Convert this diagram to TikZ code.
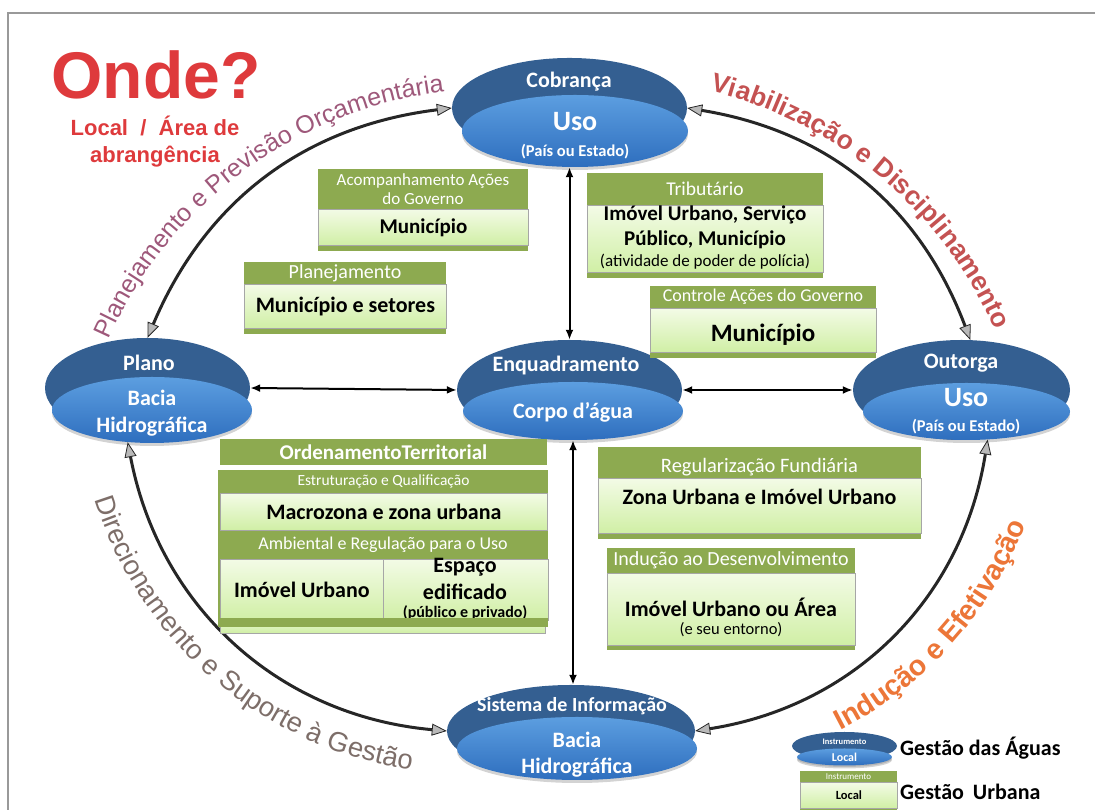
\documentclass[tikz,border=0pt]{standalone}
\usepackage{fontspec}
\setmainfont{Carlito}
\newfontfamily\arialf{Liberation Sans}
\usetikzlibrary{shapes.geometric, arrows.meta, positioning, decorations.text, shadows}

\definecolor{dblue}{RGB}{52,95,145}
\definecolor{lblueA}{RGB}{92,158,224}
\definecolor{lblueB}{RGB}{46,110,190}
\definecolor{hgreen}{RGB}{141,170,80}
\definecolor{bgA}{RGB}{243,251,230}
\definecolor{bgB}{RGB}{208,239,165}
\definecolor{ondered}{RGB}{222,58,60}
\definecolor{planc}{RGB}{158,88,122}
\definecolor{viabc}{RGB}{196,82,82}
\definecolor{direc}{RGB}{125,110,105}
\definecolor{inducc}{RGB}{236,118,56}

\begin{document}
\begin{tikzpicture}[x=1pt, y=1pt,
outer/.style={ellipse, fill=dblue, inner sep=0pt},
inner/.style={ellipse, top color=lblueA, bottom color=lblueB, inner sep=0pt, drop shadow={shadow xshift=0pt, shadow yshift=-3pt, opacity=0.35}},
wlab/.style={text=white, font=\bfseries\fontsize{22}{24}\selectfont, inner sep=0pt},
card/.style={fill=hgreen, anchor=north west, inner sep=0pt},
cell/.style={draw=black!35, line width=0.8pt, top color=bgA, bottom color=bgB, anchor=north west, inner sep=0pt, font=\bfseries\fontsize{22}{24}\selectfont},
htext/.style={text=white, inner sep=0pt, font=\fontsize{20}{22}\selectfont},
btext/.style={inner sep=0pt, font=\bfseries\fontsize{22}{24}\selectfont},
ntext/.style={inner sep=0pt, font=\fontsize{16.5}{18}\selectfont},
flow/.style={line width=3pt, draw=black!85, arrows={Triangle[length=15pt,width=12pt,line width=0.8pt,fill=gray!55]-Triangle[length=15pt,width=12pt,line width=0.8pt,fill=gray!55]}},
link/.style={line width=2pt, arrows={Latex[length=10pt,width=8pt]-Latex[length=10pt,width=8pt]}}
]
\useasboundingbox (0,0) rectangle (1095,810);
\draw[gray!80, line width=2pt] (8,-5) -- (8,797) -- (1100,797);

% texts along the arcs
\path[decorate, decoration={text along path, text align=center, text color=planc,
  text={|\arialf\fontsize{25}{25}\selectfont|Planejamento e Previsão Orçamentária}}]
  (494,300) ++(167:421) arc[start angle=167, end angle=86, radius=421];
\path[decorate, decoration={text along path, text align=center, text color=viabc,
  text={|\arialf\bfseries\fontsize{26.5}{26.5}\selectfont|Viabilização e Disciplinamento}}]
  (610.5,311) ++(88:420) arc[start angle=88, end angle=12, radius=420];
\path[decorate, decoration={text along path, text align=center, text color=direc,
  text={|\arialf\fontsize{27.5}{27.5}\selectfont|Direcionamento e Suporte à Gestão}}]
  (467.4,426.5) ++(186:390) arc[start angle=186, end angle=273, radius=390];
\path[decorate, decoration={text along path, text align=center, text color=inducc,
  text={|\arialf\bfseries\fontsize{28.5}{28.5}\selectfont|Indução e Efetivação}}]
  (663,426) ++(283:389) arc[start angle=283, end angle=353, radius=389];

% instrumentos gestao das aguas
\node[outer, minimum width=235, minimum height=100] (cobranca) at (569.5,702) {};
\node[inner, minimum width=226, minimum height=72] (cobrancaIn) at (575,679) {};
\node[wlab] (cobrancaT) at (569,728) {Cobrança};
\node[wlab, font=\bfseries\fontsize{28}{30}\selectfont] (cobrancaU) at (575,688) {Uso};
\node[wlab, font=\bfseries\fontsize{16.5}{18}\selectfont] (cobrancaL) at (575,658) {(País ou Estado)};

\node[outer, minimum width=205, minimum height=100] (plano) at (147.5,422) {};
\node[inner, minimum width=200, minimum height=66] (planoIn) at (152,400) {};
\node[wlab] (planoT) at (149,447) {Plano};
\node[wlab] (planoL1) at (152,412) {Bacia};
\node[wlab] (planoL2) at (152,383) {Hidrográfica};

\node[outer, minimum width=225, minimum height=100] (enq) at (569.5,420) {};
\node[inner, minimum width=220, minimum height=58] (enqIn) at (573,399) {};
\node[wlab] (enqT) at (566,444) {Enquadramento};
\node[wlab] (enqL) at (573,398) {Corpo d’água};

\node[outer, minimum width=217, minimum height=100] (outorga) at (961.5,420) {};
\node[inner, minimum width=207, minimum height=57] (outorgaIn) at (966.5,398.5) {};
\node[wlab] (outorgaT) at (961,447) {Outorga};
\node[wlab, font=\bfseries\fontsize{28}{30}\selectfont] (outorgaU) at (966,412) {Uso};
\node[wlab, font=\bfseries\fontsize{16.5}{18}\selectfont] (outorgaL) at (966,383) {(País ou Estado)};

\node[outer, minimum width=248, minimum height=92] (sistema) at (571,79) {};
\node[inner, minimum width=240, minimum height=63] (sistemaIn) at (577,61.5) {};
\node[wlab, font=\bfseries\fontsize{20}{22}\selectfont] (sistemaT) at (572,104) {Sistema de Informação};
\node[wlab] (sistemaL1) at (577,70) {Bacia};
\node[wlab] (sistemaL2) at (577,42) {Hidrográfica};

% ligacoes
\draw[link] (plano.east) -- (enq.west);
\draw[link] (enq.east) -- (outorga.west);
\draw[link] (enq.north) -- (enq.north |- cobrancaIn.south);
\draw[link] (enqIn.south) -- (enqIn.south |- sistema.north);
\draw[flow] (plano.north) to[bend left=30] (cobranca.west);
\draw[flow] (cobranca.east) to[bend left=30] (outorga.80);
\draw[flow] (planoIn.233) to[bend right=37] (sistema.west);
\draw[flow] (sistema.east) to[bend right=36] (outorgaIn.307);

% instrumentos gestao urbana
\node[card, minimum width=210, minimum height=82] (acomp) at (318,641) {};
\node[cell, minimum width=210, minimum height=36, font=\bfseries\fontsize{21}{23}\selectfont] (acompB) at (318,601) {Município};
\node[htext, align=center, font=\fontsize{17}{19}\selectfont] (acompH) at (423,621) {Acompanhamento Ações\\do Governo};

\node[card, minimum width=202, minimum height=72] (planej) at (244,548) {};
\node[cell, minimum width=202, minimum height=44] (planejB) at (244,526) {Município e setores};
\node[htext] (planejH) at (345,537) {Planejamento};

\node[card, minimum width=236, minimum height=105] (trib) at (587,637) {};
\node[cell, minimum width=236, minimum height=67] (tribB) at (587,605) {};
\node[htext, font=\fontsize{19.5}{21}\selectfont] (tribH) at (705,621) {Tributário};
\node[btext, font=\bfseries\fontsize{21}{25}\selectfont, align=center] (tribT) at (705,582.5) {Imóvel Urbano, Serviço\\Público, Município};
\node[ntext, font=\fontsize{17}{19}\selectfont] (tribN) at (705,548) {(atividade de poder de polícia)};

\node[card, minimum width=226, minimum height=72] (contr) at (650,524) {};
\node[cell, minimum width=226, minimum height=44] (contrB) at (650,502) {};
\node[htext, font=\fontsize{18}{20}\selectfont] (contrH) at (763,513) {Controle Ações do Governo};
\node[btext, font=\bfseries\fontsize{25}{27}\selectfont] (contrT) at (763,475) {Município};

\node[card, minimum width=327, minimum height=26, text=white, font=\bfseries\fontsize{21}{23}\selectfont, anchor=center] (orden) at (383.5,358) {OrdenamentoTerritorial};
\node[cell, minimum width=325, minimum height=21] (ordenF) at (220,198) {};
\node[card, minimum width=330, minimum height=157] (estrut) at (218,340) {};
\node[cell, minimum width=327, minimum height=37] (estrutB) at (220,317) {Macrozona e zona urbana};
\node[htext, font=\fontsize{15.5}{17}\selectfont] (estrutH) at (383.5,329) {Estruturação e Qualificação};
\node[htext, font=\fontsize{18}{20}\selectfont] (ambH) at (383,265) {Ambiental e Regulação para o Uso};
\node[cell, minimum width=163, minimum height=61] (ambL) at (220,251) {Imóvel Urbano};
\node[cell, minimum width=165, minimum height=61] (ambR) at (383,251) {};
\node[btext] (ambR1) at (465,243) {Espaço};
\node[btext] (ambR2) at (465,218) {edificado};
\node[btext, font=\bfseries\fontsize{16}{18}\selectfont] (ambR3) at (465,197) {(público e privado)};
\node[card, minimum width=330, minimum height=9] (ambS) at (218,192) {};

\node[card, minimum width=323, minimum height=92] (regul) at (598,363) {};
\node[cell, minimum width=323, minimum height=55] (regulB) at (598,332) {};
\node[htext, font=\fontsize{20.5}{22}\selectfont] (regulH) at (759.5,343) {Regularização Fundiária};
\node[btext] (regulT) at (759.5,313) {Zona Urbana e Imóvel Urbano};

\node[card, minimum width=248, minimum height=102] (induc) at (607,262) {};
\node[cell, minimum width=248, minimum height=72] (inducB) at (607,237) {};
\node[htext] (inducH) at (731,249.5) {Indução ao Desenvolvimento};
\node[btext] (inducT) at (731,203) {Imóvel Urbano ou Área};
\node[ntext] (inducN) at (731,180) {(e seu entorno)};

% legenda
\node[outer, minimum width=105, minimum height=28] (legA) at (844.5,64) {};
\node[inner, minimum width=95, minimum height=17, drop shadow={shadow xshift=0pt, shadow yshift=-1.5pt, opacity=0.35}] (legAIn) at (844.5,53) {};
\node[wlab, font=\bfseries\fontsize{8.5}{9}\selectfont] (legAT) at (844.5,68) {Instrumento};
\node[wlab, font=\bfseries\fontsize{12}{13}\selectfont] (legAL) at (844.5,53) {Local};
\node[btext, anchor=west] (legAG) at (900,62) {Gestão das Águas};
\node[card, minimum width=97, minimum height=45] (legB) at (800,39) {};
\node[cell, minimum width=97, minimum height=26, font=\bfseries\fontsize{12.5}{14}\selectfont] (legBB) at (800,28) {Local};
\node[htext, font=\fontsize{9}{10}\selectfont] (legBT) at (848.5,33) {Instrumento};
\node[btext, anchor=west] (legBG) at (900,18) {Gestão\hspace{4pt} Urbana};

% onde?
\node[text=ondered, font=\arialf\bfseries\fontsize{66}{70}\selectfont, inner sep=0pt] (onde) at (156,735) {Onde?};
\node[text=ondered, font=\arialf\bfseries\fontsize{22}{27}\selectfont, align=center, inner sep=0pt] (ondeSub) at (155,668.5) {Local~ /~ Área de\\abrangência};
\end{tikzpicture}
\end{document}
